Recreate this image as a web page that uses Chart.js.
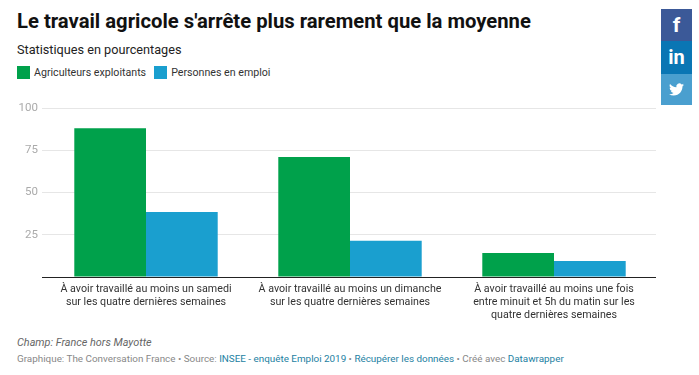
<!DOCTYPE html>
<html lang="fr">
<head>
<meta charset="utf-8">
<title>Le travail agricole</title>
<script src="https://cdn.jsdelivr.net/npm/chart.js@4"></script>
<style>
  html, body { margin: 0; padding: 0; background: #fff; }
  body { width: 699px; height: 375px; position: relative; overflow: hidden; font-family: Roboto, sans-serif; }
  #page > * { position: absolute; white-space: nowrap; }
  #title { left: 17px; top: 9px; font-size: 20.25px; line-height: 24px; font-weight: 700; color: #111; }
  #subtitle { left: 17px; top: 42px; font-size: 12.7px; line-height: 16px; color: #222; }
  #legend { left: 17px; top: 66px; font-size: 10.65px; line-height: 14px; color: #333; }
  #legend span { display: inline-block; vertical-align: top; }
  #legend .swatch { width: 13px; height: 13px; margin-right: 4px; }
  #legend .label { margin-right: 8px; }
  #chartBox { left: 0; top: 95px; width: 699px; height: 240px; }
  #note { left: 17px; top: 336px; font-size: 10.85px; line-height: 13px; font-style: italic; color: #666; }
  #credit { left: 17px; top: 352px; font-size: 9.87px; line-height: 13px; color: #888; }
  #credit a { color: #1d81a2; text-decoration: none; }
  .share { left: 661px; width: 31px; color: #fff; font-weight: 700; text-align: center; }
  #fb { top: 9px; height: 32px; background: #3b5998; font-size: 21px; line-height: 33px; }
  #li { top: 41px; height: 33px; background: #0a76b4; font-size: 20px; line-height: 33px; }
  #tw { top: 74px; height: 31px; background: #4a9fcf; }
  #tw svg { position: absolute; left: 8px; top: 8px; width: 15px; height: 15px; fill: #fff; }
</style>
</head>
<body>
<div id="page">
  <div id="title">Le travail agricole s'arrête plus rarement que la moyenne</div>
  <div id="subtitle">Statistiques en pourcentages</div>
  <div id="legend"></div>
  <div id="chartBox"><canvas id="chart"></canvas></div>
  <div id="note">Champ: France hors Mayotte</div>
  <div id="credit">Graphique: The Conversation France • Source: <a href="#">INSEE - enquête Emploi 2019</a> • <a href="#">Récupérer les données</a> • Créé avec <a href="#">Datawrapper</a></div>
  <div id="fb" class="share">f</div>
  <div id="li" class="share">in</div>
  <div id="tw" class="share"><svg viewBox="0 0 24 24"><path d="M23.953 4.57a10 10 0 01-2.825.775 4.958 4.958 0 002.163-2.723c-.951.555-2.005.959-3.127 1.184a4.92 4.92 0 00-8.384 4.482C7.69 8.095 4.067 6.13 1.64 3.162a4.822 4.822 0 00-.666 2.475c0 1.71.87 3.213 2.188 4.096a4.904 4.904 0 01-2.228-.616v.06a4.923 4.923 0 003.946 4.827 4.996 4.996 0 01-2.212.085 4.936 4.936 0 004.604 3.417 9.867 9.867 0 01-6.102 2.105c-.39 0-.779-.023-1.17-.067a13.995 13.995 0 007.557 2.209c9.053 0 13.998-7.496 13.998-13.985 0-.21 0-.42-.015-.63A9.935 9.935 0 0024 4.59z"/></svg></div>
</div>
<script>
// valeurs
var categories = [
    ['À avoir travaillé au moins un samedi', 'sur les quatre dernières semaines'],
    ['À avoir travaillé au moins un dimanche', 'sur les quatre dernières semaines'],
    ['À avoir travaillé au moins une fois', 'entre minuit et 5h du matin sur les', 'quatre dernières semaines']
];
var agriculteurs = [88, 71, 14.2];
var personnes = [38.5, 21.5, 9.5];
var seriesNames = ['Agriculteurs exploitants', 'Personnes en emploi'];
var seriesColors = ['#00a14b', '#1a9fcf'];
var yTicks = [0, 25, 50, 75, 100];

// légende
var legend = document.getElementById('legend');
seriesNames.forEach(function (name, i) {
    legend.innerHTML += '<span class="swatch" style="background:' + seriesColors[i] + '"></span>' +
        '<span class="label">' + name + '</span>';
});

var ctx = document.getElementById('chart').getContext('2d');
var chart = new Chart(ctx, {
    type: 'bar',
    data: {
        labels: categories,
        datasets: [{
            label: seriesNames[0],
            data: agriculteurs,
            backgroundColor: seriesColors[0]
        }, {
            label: seriesNames[1],
            data: personnes,
            backgroundColor: seriesColors[1]
        }]
    },
    options: {
        responsive: true,
        maintainAspectRatio: false,
        animation: false,
        layout: { padding: { top: 13, right: 43, left: 0, bottom: 0 } },
        plugins: {
            legend: { display: false },
            title: { display: false },
            tooltip: { enabled: false }
        },
        datasets: { bar: { barPercentage: 1, categoryPercentage: 0.703 } },
        scales: {
            x: {
                grid: { display: false, drawTicks: false },
                border: { display: false },
                afterFit: function (axis) { axis.height = 58; },
                ticks: {
                    autoSkip: false,
                    maxRotation: 0,
                    padding: 6,
                    color: '#333',
                    font: { family: 'Roboto', size: 10.7, lineHeight: 1.215 }
                }
            },
            y: {
                min: 0,
                max: 100,
                afterFit: function (axis) { axis.width = 44; },
                afterBuildTicks: function (axis) {
                    axis.ticks = yTicks.map(function (v) { return { value: v }; });
                },
                border: { display: false },
                grid: {
                    tickLength: 2,
                    lineWidth: 1,
                    color: function (c) { return c.tick && c.tick.value === 0 ? '#222' : '#e6e6e6'; }
                },
                ticks: {
                    padding: 4,
                    color: '#aaa',
                    font: { family: 'Roboto', size: 11.5 },
                    callback: function (value) { return value === 0 ? '' : value; }
                }
            }
        }
    }
});
</script>
</body>
</html>
